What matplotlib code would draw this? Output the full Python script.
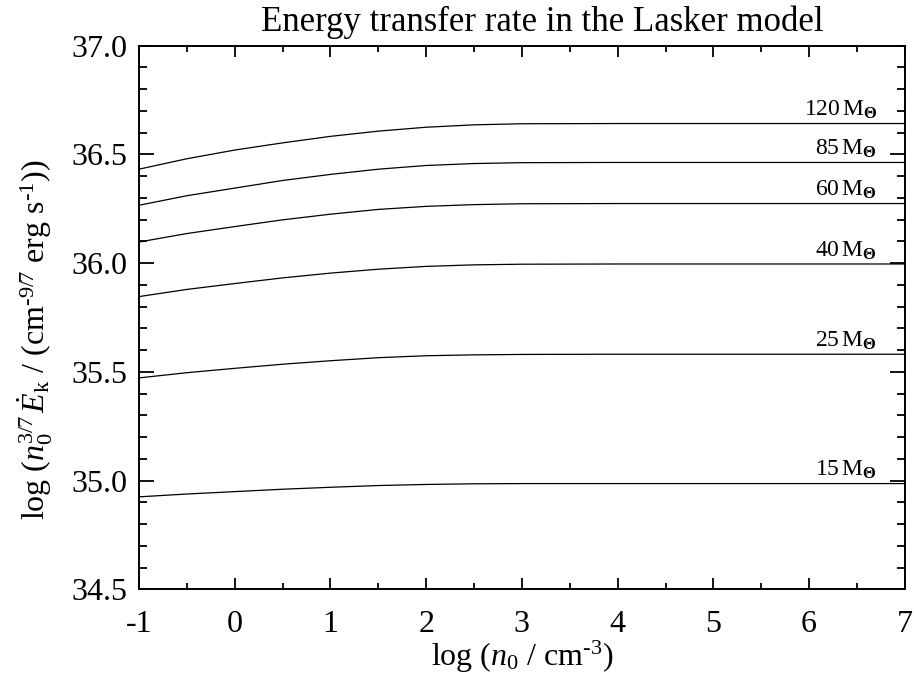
import numpy as np
import matplotlib.pyplot as plt
from matplotlib.ticker import MultipleLocator

plt.rcParams['font.family'] = ['Liberation Serif', 'DejaVu Serif']
plt.rcParams['mathtext.fontset'] = 'custom'
plt.rcParams['mathtext.rm'] = 'Liberation Serif'
plt.rcParams['mathtext.it'] = 'Liberation Serif:italic'
plt.rcParams['mathtext.bf'] = 'Liberation Serif:bold'
plt.rcParams['axes.unicode_minus'] = False

# datos
log_n0 = [-1, -0.5, 0, 0.5, 1, 1.5, 2, 2.5, 3, 4, 5, 6, 7]
masas = ['120', '85', '60', '40', '25', '15']
m120 = [36.432, 36.48, 36.52, 36.553, 36.583, 36.607, 36.625, 36.636, 36.641, 36.642, 36.642, 36.642, 36.642]
m85 = [36.266, 36.31, 36.345, 36.38, 36.408, 36.432, 36.449, 36.458, 36.462, 36.463, 36.463, 36.463, 36.463]
m60 = [36.097, 36.136, 36.168, 36.199, 36.225, 36.247, 36.261, 36.269, 36.273, 36.274, 36.274, 36.274, 36.274]
m40 = [35.846, 35.879, 35.906, 35.932, 35.954, 35.972, 35.985, 35.992, 35.995, 35.996, 35.996, 35.996, 35.996]
m25 = [35.472, 35.496, 35.516, 35.535, 35.551, 35.565, 35.574, 35.578, 35.58, 35.581, 35.581, 35.581, 35.581]
m15 = [34.925, 34.938, 34.949, 34.96, 34.969, 34.977, 34.982, 34.985, 34.986, 34.986, 34.986, 34.986, 34.986]
curvas = [m120, m85, m60, m40, m25, m15]

fig = plt.figure(figsize=(9.14, 6.82), dpi=100)
ax = fig.add_axes([0.152, 0.136, 0.838, 0.797])

for masa, valores in zip(masas, curvas):
    ax.plot(log_n0, valores, color='black', lw=0.9)
    ax.text(6.71, valores[-1] + 0.035, masa + r'$\,\mathrm{M}_{\mathbf{\Theta}}$',
            ha='right', va='baseline', fontsize=17)

ax.set_xlim(-1, 7)
ax.set_ylim(34.5, 37.0)
ax.xaxis.set_major_locator(MultipleLocator(1))
ax.xaxis.set_minor_locator(MultipleLocator(0.5))
ax.yaxis.set_major_locator(MultipleLocator(0.5))
ax.yaxis.set_minor_locator(MultipleLocator(0.1))
ax.yaxis.set_major_formatter(plt.FormatStrFormatter('%.1f'))
ax.tick_params(axis='both', which='both', direction='in', top=True, right=True, labelsize=23)
ax.tick_params(axis='x', which='major', length=8, width=1.3, pad=15)
ax.tick_params(axis='x', which='minor', length=4.3, width=1.3)
ax.tick_params(axis='y', which='major', length=11, width=1.3, pad=8)
ax.tick_params(axis='y', which='minor', length=5.5, width=1.3)
for s in ax.spines.values():
    s.set_linewidth(1.4)

ax.set_xlabel(r'log ($n_{\rm 0}$ / cm$^{\text{-3}}$)', fontsize=23, labelpad=0)
ax.set_ylabel(r'log ($n_{\rm 0}^{\text{3/7}}\,\dot{E}_{\rm k}$ / (cm$^{\text{-9/7}}$ erg s$^{\text{-1}}$))', fontsize=23)
ax.yaxis.set_label_coords(-0.11, 0.458)
fig.text(542 / 914, 1 - 22 / 682, 'Energy transfer rate in the Lasker model', ha='center', va='center', fontsize=25)

plt.savefig('out.png', dpi=100)
